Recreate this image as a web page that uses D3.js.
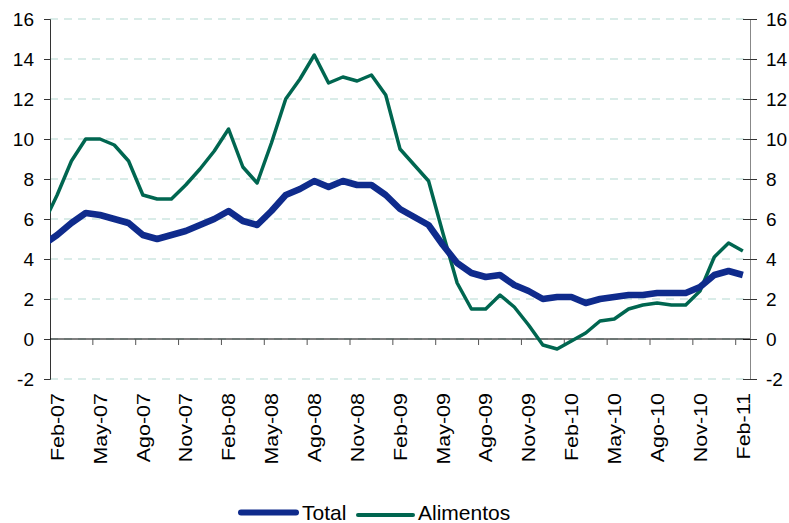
<!DOCTYPE html>
<html>
<head>
<meta charset="utf-8">
<script src="https://cdn.jsdelivr.net/npm/d3@7"></script>
<style>
  body { margin: 0; background: #fff; }
  svg text { font-family: "Liberation Sans", Arial, sans-serif; fill: #000; }
</style>
</head>
<body>
<svg id="chart" width="789" height="523"></svg>
<script>
// meses (el primero, Ene-07, queda fuera del área y solo se ve su tramo)
let months = ["Ene-07",
  "Feb-07","Mar-07","Abr-07","May-07","Jun-07","Jul-07","Ago-07","Sep-07","Oct-07","Nov-07","Dic-07",
  "Ene-08","Feb-08","Mar-08","Abr-08","May-08","Jun-08","Jul-08","Ago-08","Sep-08","Oct-08","Nov-08","Dic-08",
  "Ene-09","Feb-09","Mar-09","Abr-09","May-09","Jun-09","Jul-09","Ago-09","Sep-09","Oct-09","Nov-09","Dic-09",
  "Ene-10","Feb-10","Mar-10","Abr-10","May-10","Jun-10","Jul-10","Ago-10","Sep-10","Oct-10","Nov-10","Dic-10",
  "Ene-11","Feb-11"]

let total = [4.7,
  5.2, 5.8, 6.3, 6.2, 6.0, 5.8, 5.2, 5.0, 5.2, 5.4, 5.7,
  6.0, 6.4, 5.9, 5.7, 6.4, 7.2, 7.5, 7.9, 7.6, 7.9, 7.7,
  7.7, 7.2, 6.5, 6.1, 5.7, 4.7, 3.8, 3.3, 3.1, 3.2, 2.7,
  2.4, 2.0, 2.1, 2.1, 1.8, 2.0, 2.1, 2.2, 2.2, 2.3, 2.3,
  2.3, 2.6, 3.2, 3.4, 3.2]

let alimentos = [5.7,
  7.2, 8.9, 10.0, 10.0, 9.7, 8.9, 7.2, 7.0, 7.0, 7.7, 8.5,
  9.4, 10.5, 8.6, 7.8, 9.8, 12.0, 13.0, 14.2, 12.8, 13.1, 12.9,
  13.2, 12.2, 9.5, 8.7, 7.9, 5.3, 2.8, 1.5, 1.5, 2.2, 1.6,
  0.7, -0.3, -0.5, -0.1, 0.3, 0.9, 1.0, 1.5, 1.7, 1.8, 1.7,
  1.7, 2.4, 4.1, 4.8, 4.4]

let xLabels = ["Feb-07","May-07","Ago-07","Nov-07","Feb-08","May-08","Ago-08","Nov-08",
  "Feb-09","May-09","Ago-09","Nov-09","Feb-10","May-10","Ago-10","Nov-10","Feb-11"]
let yTicks = [-2, 0, 2, 4, 6, 8, 10, 12, 14, 16]

let plotLeft = 50, plotRight = 750, plotTop = 19, plotBottom = 379
let svg = d3.select("#chart")

let step = (plotRight - plotLeft) / (months.length - 1)
let xScale = d3.scaleBand()
  .domain(months)
  .range([plotLeft - step, plotRight])
let xMid = m => xScale(m) + xScale.bandwidth() / 2

let yScale = d3.scaleLinear()
  .domain([-2, 16])
  .range([plotBottom, plotTop])

// rejilla
svg.append("g")
  .selectAll("line")
  .data(yTicks)
  .join("line")
  .attr("x1", plotLeft)
  .attr("x2", plotRight)
  .attr("y1", d => yScale(d))
  .attr("y2", d => yScale(d))
  .attr("stroke", "#b3d9d1")
  .attr("stroke-width", 1)
  .attr("stroke-dasharray", "8,6")

// ejes verticales
let yLeft = d3.axisLeft(yScale).tickValues(yTicks).tickSize(6).tickPadding(10)
  .tickFormat(d => String(d))
svg.append("g")
  .attr("transform", `translate(${plotLeft},0)`)
  .call(yLeft)
  .call(g => g.select(".domain").attr("stroke", "#333"))
  .call(g => g.selectAll(".tick line").attr("stroke", "#333"))
  .call(g => g.selectAll("text").attr("font-size", 19))

let yRight = d3.axisRight(yScale).tickValues(yTicks).tickSize(7).tickPadding(9)
  .tickFormat(d => String(d))
svg.append("g")
  .attr("transform", `translate(${plotRight},0)`)
  .call(yRight)
  .call(g => g.select(".domain").attr("stroke", "#888"))
  .call(g => g.selectAll(".tick line").attr("x1", -7).attr("stroke", "#333"))
  .call(g => g.selectAll("text").attr("font-size", 19))

// eje x en cero
svg.append("line")
  .attr("x1", plotLeft)
  .attr("x2", plotRight)
  .attr("y1", yScale(0))
  .attr("y2", yScale(0))
  .attr("stroke", "#000")

let tickMonths = months.filter((m, i) => i > 1 && (i - 1) % 3 == 0)
svg.append("g")
  .selectAll("line")
  .data(tickMonths)
  .join("line")
  .attr("x1", d => xScale(d))
  .attr("x2", d => xScale(d))
  .attr("y1", yScale(0))
  .attr("y2", yScale(0) + 6)
  .attr("stroke", "#555")

svg.append("g")
  .selectAll("text")
  .data(xLabels)
  .join("text")
  .attr("transform", d => `translate(${xMid(d)},${plotBottom + 14}) rotate(-90) scale(1.13,1)`)
  .attr("text-anchor", "end")
  .attr("dy", "0.35em")
  .attr("font-size", 19)
  .text(d => d)

// series
svg.append("clipPath")
  .attr("id", "plot")
  .append("rect")
  .attr("x", plotLeft)
  .attr("y", 0)
  .attr("width", plotRight - plotLeft)
  .attr("height", 523)

let line = d3.line()
  .x((d, i) => xMid(months[i]))
  .y(d => yScale(d))

svg.append("path")
  .datum(alimentos)
  .attr("clip-path", "url(#plot)")
  .attr("fill", "none")
  .attr("stroke", "#006650")
  .attr("stroke-width", 3.5)
  .attr("stroke-linejoin", "round")
  .attr("d", line)

svg.append("path")
  .datum(total)
  .attr("clip-path", "url(#plot)")
  .attr("fill", "none")
  .attr("stroke", "#0f2b8c")
  .attr("stroke-width", 6.5)
  .attr("stroke-linejoin", "round")
  .attr("d", line)

// leyenda
let legend = [
  {name: "Total", color: "#0f2b8c", width: 6, x: 241, y: 512.5, tx: 61},
  {name: "Alimentos", color: "#006650", width: 4, x: 358, y: 515, tx: 60}
]
let lg = svg.append("g")
  .selectAll("g")
  .data(legend)
  .join("g")
  .attr("transform", d => `translate(${d.x},${d.y})`)
lg.append("line")
  .attr("x1", 0)
  .attr("x2", 55)
  .attr("stroke", d => d.color)
  .attr("stroke-width", d => d.width)
  .attr("stroke-linecap", "round")
lg.append("text")
  .attr("x", d => d.tx)
  .attr("y", d => 520 - d.y)
  .attr("font-size", 21)
  .text(d => d.name)
</script>
</body>
</html>
